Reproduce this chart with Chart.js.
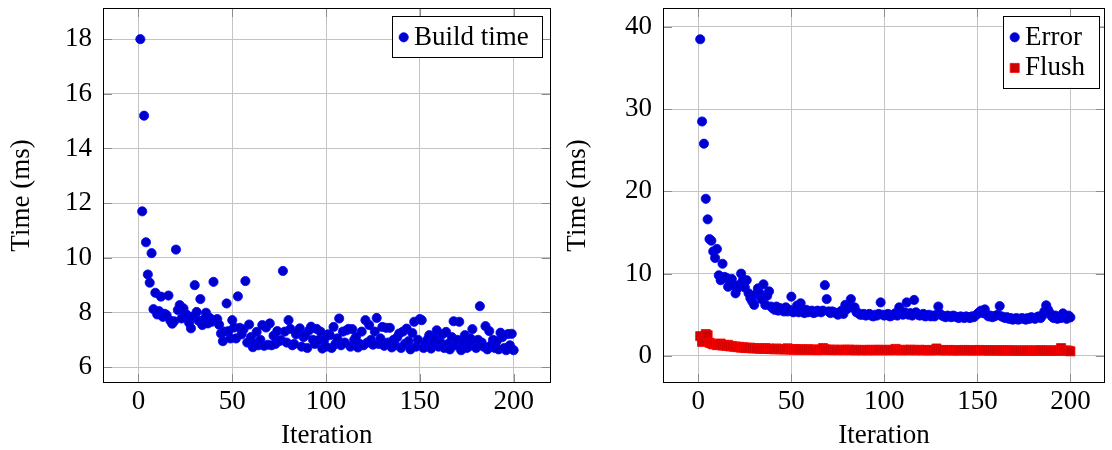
<!DOCTYPE html>
<html><head><meta charset="utf-8">
<script src="https://cdn.jsdelivr.net/npm/chart.js@4.4.1/dist/chart.umd.min.js"></script>
<style>
html,body{margin:0;padding:0;background:#fff;overflow:hidden;width:1112px;height:450px}
.wrap{position:absolute;top:0;height:450px}
#w1{left:0;width:556px}
#w2{left:556px;width:556px}
canvas{display:block}
</style></head><body>
<div class="wrap" id="w1"><canvas id="c1" width="556" height="450"></canvas></div>
<div class="wrap" id="w2"><canvas id="c2" width="556" height="450"></canvas></div>
<script>
const iterations = [1,2,3,4,5,6,7,8,9,10,11,12,13,14,15,16,17,18,19,20,21,22,23,24,25,26,27,28,29,30,31,32,33,34,35,36,37,38,39,40,41,42,43,44,45,46,47,48,49,50,51,52,53,54,55,56,57,58,59,60,61,62,63,64,65,66,67,68,69,70,71,72,73,74,75,76,77,78,79,80,81,82,83,84,85,86,87,88,89,90,91,92,93,94,95,96,97,98,99,100,101,102,103,104,105,106,107,108,109,110,111,112,113,114,115,116,117,118,119,120,121,122,123,124,125,126,127,128,129,130,131,132,133,134,135,136,137,138,139,140,141,142,143,144,145,146,147,148,149,150,151,152,153,154,155,156,157,158,159,160,161,162,163,164,165,166,167,168,169,170,171,172,173,174,175,176,177,178,179,180,181,182,183,184,185,186,187,188,189,190,191,192,193,194,195,196,197,198,199,200];

const buildTime = [18.0,11.7,15.2,10.57,9.39,9.09,10.17,8.12,8.72,7.93,8.05,8.58,7.84,7.95,7.9,8.62,7.7,7.59,7.68,10.3,
8.09,8.27,7.78,8.15,7.95,7.9,7.62,7.42,7.85,9.0,8.02,7.7,8.49,7.54,7.76,7.99,7.6,7.8,7.66,9.12,
7.72,7.76,7.55,7.23,6.95,7.3,8.33,7.32,7.05,7.72,7.45,7.05,8.59,7.44,7.2,7.38,9.15,6.9,7.56,7.1,
6.73,6.85,7.29,6.8,7.0,7.54,6.78,7.45,6.82,7.6,6.8,7.15,6.85,7.32,6.95,6.99,9.52,7.3,6.9,7.72,
7.4,6.8,6.85,7.2,7.3,7.42,6.75,7.1,7.17,6.7,7.35,7.48,7.0,6.85,7.4,6.99,7.3,6.68,7.0,6.75,
7.2,7.17,6.7,7.47,6.85,7.05,7.78,6.8,7.3,6.9,7.35,7.4,6.75,7.39,7.0,7.11,6.72,6.85,7.3,6.8,
7.72,6.9,7.54,7.0,6.82,7.3,7.8,6.85,7.05,7.47,6.78,7.44,6.9,7.44,6.72,7.0,6.8,7.1,7.23,6.7,
7.3,6.85,7.41,6.95,6.65,7.25,7.66,6.75,7.0,7.76,7.72,6.7,6.85,7.0,7.17,6.68,6.9,7.05,7.35,6.75,
6.9,7.2,6.7,7.29,6.85,6.65,7.1,7.68,6.8,7.0,7.66,6.62,6.9,7.17,6.7,6.75,7.05,7.39,6.85,6.7,
7.0,8.23,6.9,6.75,7.5,6.65,7.32,6.8,7.0,6.7,6.95,6.65,7.26,7.1,6.7,6.62,7.21,6.8,7.22,6.62];

const errorTime = [38.5,28.5,25.8,19.1,16.6,14.2,14.0,12.7,11.9,13.0,9.8,9.2,11.2,9.6,9.5,8.4,8.9,9.35,8.6,7.6,
8.2,8.65,10.0,9.2,8.3,9.2,7.6,7.0,6.6,6.2,7.5,8.2,7.6,6.9,8.7,6.2,7.3,7.85,6.0,5.8,
5.6,6.0,5.5,5.8,5.6,5.4,5.9,5.4,5.6,7.2,5.3,5.4,6.1,5.3,6.4,5.5,5.2,5.6,5.3,5.4,
5.5,5.2,5.3,5.5,5.4,5.3,5.5,8.6,6.9,5.4,5.2,5.4,5.3,5.2,5.0,5.3,5.5,5.1,6.2,5.7,
6.3,6.9,5.9,5.9,5.3,5.2,5.0,5.0,5.1,4.9,5.0,5.1,4.9,4.8,5.0,4.9,5.1,6.5,5.0,4.9,
5.0,5.1,4.8,4.9,5.0,5.2,4.9,5.9,5.1,5.0,5.3,6.5,5.0,5.2,4.9,6.8,5.3,5.0,4.9,5.0,
5.1,4.8,4.9,5.0,4.8,4.9,4.8,5.0,6.0,5.1,4.9,4.8,4.7,4.9,4.8,4.7,4.9,4.8,4.7,4.6,
4.8,4.7,4.6,4.8,4.7,4.6,4.8,4.7,4.9,5.1,5.3,5.5,5.2,5.65,5.0,4.8,4.9,4.7,4.8,4.9,
5.0,6.05,4.8,4.7,4.6,4.7,4.5,4.6,4.4,4.5,4.6,4.4,4.5,4.6,4.5,4.4,4.6,4.5,4.7,4.6,
4.5,4.7,4.8,4.6,4.9,5.4,6.15,5.6,5.2,4.8,4.6,4.9,4.5,4.7,4.6,5.16,4.8,4.5,4.9,4.68];

const flushTime = [2.4,1.7,2.0,2.65,2.5,1.6,1.5,1.4,1.45,1.3,1.35,1.5,1.25,1.3,1.2,1.35,1.15,1.2,1.1,1.15,
1.05,1.1,1.0,1.05,0.95,1.0,0.95,1.0,0.9,0.95,0.9,0.92,0.88,0.9,0.85,0.95,0.85,0.88,0.82,0.85,
0.8,0.9,0.82,0.8,0.85,0.78,0.8,0.92,0.78,0.8,0.75,0.82,0.78,0.76,0.8,0.75,0.78,0.74,0.8,0.76,
0.72,0.78,0.74,0.7,0.76,0.72,0.95,0.8,0.74,0.72,0.76,0.7,0.74,0.72,0.7,0.75,0.72,0.7,0.74,0.72,
0.76,0.7,0.72,0.68,0.74,0.7,0.72,0.68,0.7,0.72,0.68,0.74,0.7,0.68,0.72,0.7,0.75,0.7,0.68,0.72,
0.7,0.74,0.68,0.72,0.7,0.85,0.72,0.7,0.68,0.74,0.7,0.72,0.68,0.76,0.7,0.72,0.68,0.7,0.74,0.68,
0.7,0.72,0.68,0.7,0.66,0.72,0.7,0.9,0.68,0.72,0.68,0.7,0.66,0.7,0.72,0.68,0.66,0.7,0.68,0.66,
0.7,0.68,0.72,0.66,0.68,0.7,0.66,0.68,0.7,0.66,0.72,0.68,0.66,0.7,0.68,0.65,0.68,0.66,0.7,0.65,
0.68,0.66,0.64,0.68,0.66,0.64,0.68,0.65,0.66,0.64,0.66,0.62,0.65,0.64,0.66,0.62,0.64,0.66,0.62,0.64,
0.66,0.62,0.64,0.68,0.66,0.62,0.64,0.66,0.62,0.64,0.66,0.62,0.64,0.66,0.95,0.64,0.62,0.66,0.62,0.55];

const xTicks = [0, 50, 100, 150, 200];
const yTicksLeft = [6, 8, 10, 12, 14, 16, 18];
const yTicksRight = [0, 10, 20, 30, 40];
const xTitle = 'Iteration';
const yTitle = 'Time (ms)';

const FONT = "'Liberation Serif', 'Times New Roman', serif";
const FS = 27;

function pts(ys) { return ys.map((y, i) => ({ x: iterations[i], y })); }

const frameTicks = {
  id: 'frameTicks',
  beforeDatasetsDraw(chart) {
    const { ctx, chartArea: a, scales } = chart;
    ctx.save();
    ctx.strokeStyle = '#8c8c8c';
    ctx.lineWidth = 1;
    const L = 9;
    ctx.beginPath();
    scales.x.ticks.forEach(t => {
      const p = Math.round(scales.x.getPixelForValue(t.value)) + 0.5;
      ctx.moveTo(p, a.top); ctx.lineTo(p, a.top + L);
      ctx.moveTo(p, a.bottom); ctx.lineTo(p, a.bottom - L);
    });
    scales.y.ticks.forEach(t => {
      const p = Math.round(scales.y.getPixelForValue(t.value)) + 0.5;
      ctx.moveTo(a.left, p); ctx.lineTo(a.left + L, p);
      ctx.moveTo(a.right, p); ctx.lineTo(a.right - L, p);
    });
    ctx.stroke();
    ctx.restore();
  },
  afterDatasetsDraw(chart) {
    const { ctx, chartArea: a } = chart;
    ctx.save();
    ctx.strokeStyle = '#000';
    ctx.lineWidth = 1;
    ctx.strokeRect(Math.round(a.left) + 0.5, Math.round(a.top) + 0.5,
      Math.round(a.right) - Math.round(a.left) - 1, Math.round(a.bottom) - Math.round(a.top) - 1);
    ctx.restore();
  }
};

function drawMarker(ctx, ds, x, y) {
  ctx.save();
  ctx.fillStyle = ds.backgroundColor;
  ctx.strokeStyle = ds.borderColor;
  ctx.lineWidth = ds.borderWidth;
  ctx.beginPath();
  if (ds.pointStyle === 'rect') {
    const s = Math.SQRT1_2 * ds.pointRadius;
    ctx.rect(x - s, y - s, 2 * s, 2 * s);
  } else {
    ctx.arc(x, y, ds.pointRadius, 0, Math.PI * 2);
  }
  ctx.fill();
  ctx.stroke();
  ctx.restore();
}

const pgfLegend = {
  id: 'pgfLegend',
  afterDraw(chart, args, opts) {
    const { ctx, chartArea: a } = chart;
    const dss = chart.data.datasets;
    ctx.save();
    ctx.font = FS + 'px ' + FONT;
    let tw = 0;
    dss.forEach(d => { tw = Math.max(tw, ctx.measureText(d.label).width); });
    const rowH = 30.6;
    const w = 22.5 + tw + 13;
    const h = 41 + rowH * (dss.length - 1);
    const right = Math.round(a.right) - (opts.inset || 9);
    const left = Math.round(right - w);
    const top = Math.round(a.top) + 8;
    ctx.fillStyle = '#fff';
    ctx.fillRect(left, top, right - left, h);
    ctx.strokeStyle = '#000';
    ctx.lineWidth = 1;
    ctx.strokeRect(left + 0.5, top + 0.5, right - left, Math.round(h));
    dss.forEach((d, i) => {
      const my = top + 21.3 + i * rowH;
      drawMarker(ctx, d, left + 11.7, my);
      ctx.fillStyle = '#000';
      ctx.textBaseline = 'alphabetic';
      ctx.textAlign = 'left';
      ctx.fillText(d.label, left + 22, my + 7.5);
    });
    ctx.restore();
  }
};

function makeChart(id, datasets, yMin, yMax, yTicks, xMin, xMax, yAxisW, rightPad, legendInset) {
  return new Chart(document.getElementById(id), {
    type: 'scatter',
    data: { datasets },
    options: {
      responsive: false,
      animation: false,
      events: [],
      layout: { padding: { top: 8, right: rightPad, bottom: 0, left: 0 } },
      plugins: { legend: { display: false }, tooltip: { enabled: false }, pgfLegend: { inset: legendInset } },
      scales: {
        x: {
          type: 'linear', min: xMin, max: xMax,
          afterBuildTicks: s => { s.ticks = xTicks.map(v => ({ value: v })); },
          afterFit: s => { s.height = 67; s.paddingLeft = 0; s.paddingRight = 0; },
          ticks: { font: { family: FONT, size: FS }, color: '#000', padding: 2.5, maxRotation: 0, autoSkip: false },
          grid: { color: '#c4c4c4', lineWidth: 1, drawTicks: false },
          border: { display: false },
          title: { display: true, text: xTitle, color: '#000', font: { family: FONT, size: FS, lineHeight: 1 }, padding: { top: 0, bottom: 0.6 } }
        },
        y: {
          type: 'linear', min: yMin, max: yMax,
          afterBuildTicks: s => { s.ticks = yTicks.map(v => ({ value: v })); },
          afterFit: s => { s.width = yAxisW; s.paddingTop = 0; s.paddingBottom = 0; },
          ticks: { font: { family: FONT, size: FS }, color: '#000', padding: 11, autoSkip: false },
          grid: { color: '#c4c4c4', lineWidth: 1, drawTicks: false },
          border: { display: false },
          title: { display: true, text: yTitle, color: '#000', font: { family: FONT, size: FS, lineHeight: 1 }, padding: { top: 8, bottom: 0 } }
        }
      }
    },
    plugins: [frameTicks, pgfLegend]
  });
}

makeChart('c1', [{
  label: 'Build time', data: pts(buildTime),
  pointStyle: 'circle', pointRadius: 4.6, borderWidth: 0.8,
  backgroundColor: '#0000cc', borderColor: '#0000ff'
}], 5.42, 19.14, yTicksLeft, -18.9, 219.7, 103, 2, 9);

makeChart('c2', [{
  label: 'Error', data: pts(errorTime),
  pointStyle: 'circle', pointRadius: 4.6, borderWidth: 0.8,
  backgroundColor: '#0000cc', borderColor: '#0000ff'
}, {
  label: 'Flush', data: pts(flushTime),
  pointStyle: 'rect', pointRadius: 6.4, borderWidth: 0.8,
  backgroundColor: '#cc0000', borderColor: '#ff0000'
}], -3.3, 42.3, yTicksRight, -19, 218.5, 107, 1, 6);
</script>
</body></html>
